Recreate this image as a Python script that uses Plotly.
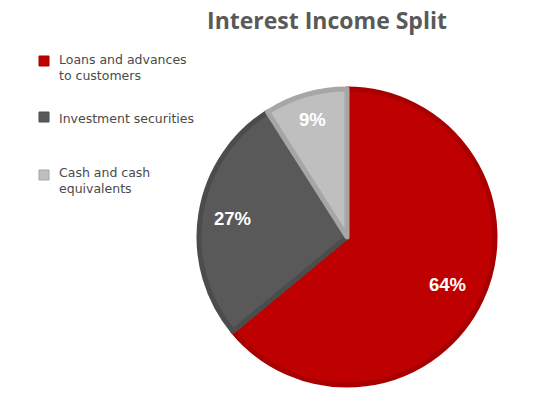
import math
import plotly.graph_objects as go

# Interest income composition (%)
categories = ["Loans and advances<br>to customers", "Investment securities", "Cash and cash<br>equivalents"]
shares = [64, 27, 9]

fill_colors = ["#BE0000", "#595959", "#BFBFBF"]
edge_colors = ["#A80000", "#4C4C4C", "#A6A6A6"]

W, H = 540, 405
cx, cy, r = 347, 237, 148

fig = go.Figure()
fig.add_trace(go.Pie(
    labels=categories,
    values=shares,
    sort=False,
    direction="clockwise",
    rotation=0,
    marker=dict(colors=fill_colors, line=dict(color=edge_colors, width=5)),
    textinfo="none",
    showlegend=False,
    hoverinfo="label+percent",
    domain=dict(x=[(cx - r) / W, (cx + r) / W], y=[1 - (cy + r) / H, 1 - (cy - r) / H]),
))

# Percentage labels placed on each slice's bisector, toward the rim
annotations = []
total = sum(shares)
start = 0.0
label_radius = [0.75, 0.78, 0.83]
for v, lr in zip(shares, label_radius):
    mid = (start + v / 2) / total * 2 * math.pi
    start += v
    px = cx + lr * r * math.sin(mid)
    py = cy - lr * r * math.cos(mid)
    annotations.append(dict(text=f"<b>{v}%</b>", xref="paper", yref="paper",
                            x=px / W, y=1 - py / H, xanchor="center", yanchor="middle",
                            showarrow=False, font=dict(family="Arial", size=18.5, color="white")))

# Legend drawn as swatches + labels on the left
swatch_y = [61, 117, 175]
text_y = [68, 118, 181]
shapes = []
for sy, ty, label, fc, ec in zip(swatch_y, text_y, categories, fill_colors, edge_colors):
    shapes.append(dict(type="rect", xref="paper", yref="paper",
                       x0=39 / W, x1=49 / W, y0=1 - (sy + 5) / H, y1=1 - (sy - 5) / H,
                       fillcolor=fc, line=dict(color=ec, width=1)))
    annotations.append(dict(text=label, xref="paper", yref="paper", x=57 / W, y=1 - ty / H,
                            xanchor="left", yanchor="middle", align="left", showarrow=False,
                            font=dict(family="DejaVu Sans", size=12.5, color="#4A4A4A")))

fig.update_layout(
    width=W, height=H,
    margin=dict(l=0, r=0, t=0, b=0),
    paper_bgcolor="white",
    plot_bgcolor="white",
    title=dict(text="<b>Interest Income Split</b>", x=327 / W, xanchor="center", y=1 - 21 / H, yanchor="middle",
               font=dict(family="Open Sans", size=23, color="#595959")),
    shapes=shapes,
    annotations=annotations,
)

fig.write_html("out.html")
